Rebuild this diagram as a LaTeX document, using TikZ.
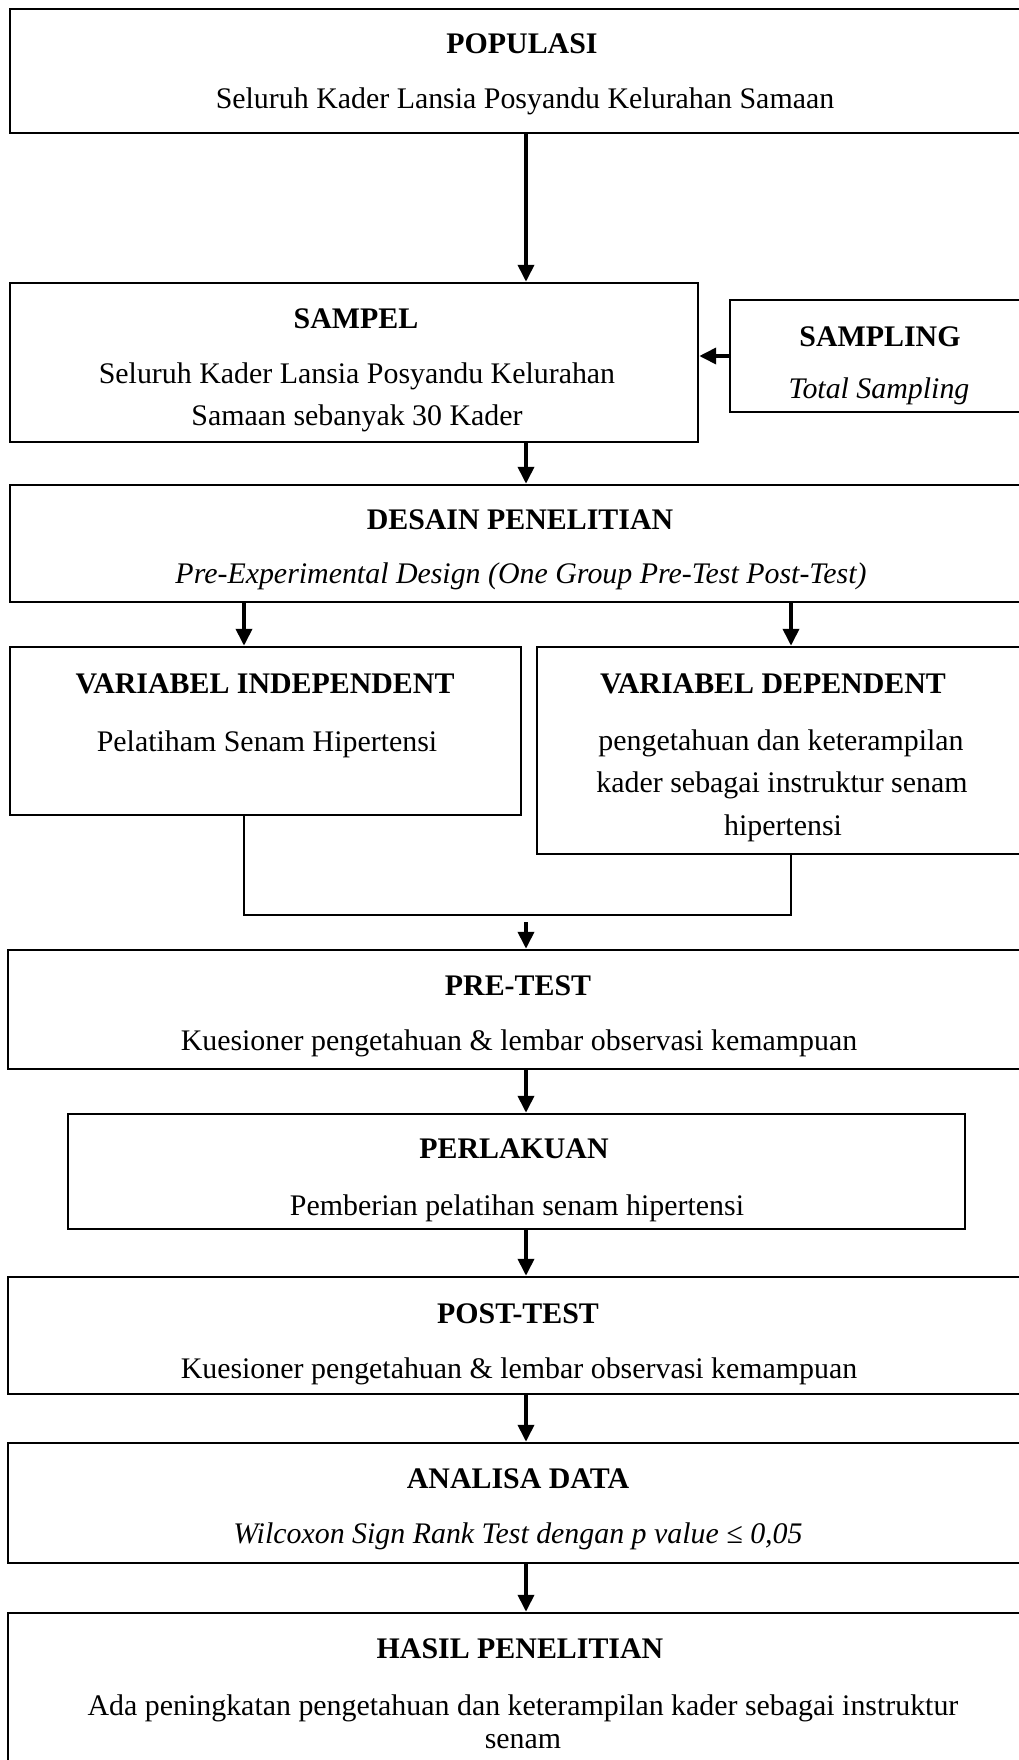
\documentclass[tikz,border=0pt]{standalone}
\usepackage{fontspec}
\setmainfont{Liberation Serif}
\usetikzlibrary{arrows.meta}
\newcommand\mybox[5]{\node[box, minimum width={(#4-#2)*0.01cm}, minimum height={(#5-#3)*0.01cm}] (#1) at ({(#2+#4)/2},{(#3+#5)/2}) {};}
\begin{document}
\begin{tikzpicture}[x=0.01cm,y=-0.01cm,
  box/.style={draw, line width=0.7pt, rectangle, inner sep=0pt},
  ttl/.style={font=\fontsize{8.5}{11.9}\selectfont\bfseries, anchor=base, inner sep=0pt},
  txt/.style={font=\fontsize{8.5}{11.9}\selectfont, anchor=base, inner sep=0pt},
  itx/.style={font=\fontsize{8.5}{11.9}\selectfont\itshape, anchor=base, inner sep=0pt},
  arr/.style={-{Triangle[length=4.8pt,width=4.5pt]}, line width=1.1pt},
  ln/.style={line width=0.8pt}]
\useasboundingbox (0,0) rectangle (1019,1760);
\clip (0,0) rectangle (1019,1760);
\fill[white] (0,0) rectangle (1019,1760);
% boxes
\mybox{pop}{10}{9}{1040}{133}
\mybox{sam}{10}{283}{698}{442}
\mybox{spl}{730}{300}{1040}{412}
\mybox{des}{10}{485}{1040}{602}
\mybox{ind}{10}{647}{521}{815}
\mybox{dep}{537}{647}{1040}{854}
\mybox{pre}{8}{950}{1040}{1069}
\mybox{per}{68}{1114}{965}{1229}
\mybox{pst}{8}{1277}{1040}{1394}
\mybox{ana}{8}{1443}{1040}{1563}
\mybox{has}{8}{1613}{1040}{1820}
% texts
\node[ttl] (t1) at (522,53) {POPULASI};
\node[txt] (b1) at (525,108) {Seluruh  Kader Lansia  Posyandu  Kelurahan  Samaan};
\node[ttl] (t2) at (356,328) {SAMPEL};
\node[txt] (b2a) at (357,383) {Seluruh  Kader Lansia  Posyandu  Kelurahan};
\node[txt] (b2b) at (357,425) {Samaan  sebanyak  30 Kader};
\node[ttl] (t3) at (880,346) {SAMPLING};
\node[itx] (b3) at (879,398) {Total Sampling};
\node[ttl] (t4) at (520,529) {DESAIN PENELITIAN};
\node[itx] (b4) at (521,583) {Pre-Experimental Design (One Group Pre-Test Post-Test)};
\node[ttl] (t5) at (265,693) {VARIABEL  INDEPENDENT};
\node[txt] (b5) at (267,751) {Pelatiham  Senam Hipertensi};
\node[ttl] (t6) at (773,693) {VARIABEL  DEPENDENT};
\node[txt] (b6a) at (781,750) {pengetahuan  dan keterampilan};
\node[txt] (b6b) at (782,792) {kader sebagai instruktur  senam};
\node[txt] (b6c) at (783,835) {hipertensi};
\node[ttl] (t7) at (518,995) {PRE-TEST};
\node[txt] (b7) at (519,1050) {Kuesioner  pengetahuan  \& lembar  observasi kemampuan};
\node[ttl] (t8) at (514,1158) {PERLAKUAN};
\node[txt] (b8) at (517,1215) {Pemberian  pelatihan  senam hipertensi};
\node[ttl] (t9) at (518,1323) {POST-TEST};
\node[txt] (b9) at (519,1378) {Kuesioner  pengetahuan  \& lembar  observasi kemampuan};
\node[ttl] (t10) at (518,1488) {ANALISA DATA};
\node[itx] (b10) at (518,1543) {Wilcoxon Sign Rank Test dengan p value ≤ 0,05};
\node[ttl] (t11) at (520,1658) {HASIL PENELITIAN};
\node[txt] (b11a) at (523,1715) {Ada peningkatan  pengetahuan  dan keterampilan  kader sebagai  instruktur};
\node[txt] (b11b) at (523,1748) {senam};
% connectors
\coordinate (cx) at (526,0);
\coordinate (cl) at (244,0);
\coordinate (cr) at (791,0);
\coordinate (j) at (526,915);
\draw[arr] (pop.south -| cx) -- (sam.north -| cx);
\draw[arr] (spl.west) -- (sam.east |- spl.west);
\draw[arr] (sam.south -| cx) -- (des.north -| cx);
\draw[arr] (des.south -| cl) -- (ind.north -| cl);
\draw[arr] (des.south -| cr) -- (dep.north -| cr);
\draw[ln] (ind.south -| cl) -- (cl |- j) -- (cr |- j) -- (dep.south -| cr);
\draw[arr] ([yshift=-2pt]j) -- (pre.north -| j);
\draw[arr] (pre.south -| cx) -- (per.north -| cx);
\draw[arr] (per.south -| cx) -- (pst.north -| cx);
\draw[arr] (pst.south -| cx) -- (ana.north -| cx);
\draw[arr] (ana.south -| cx) -- (has.north -| cx);
\end{tikzpicture}
\end{document}
